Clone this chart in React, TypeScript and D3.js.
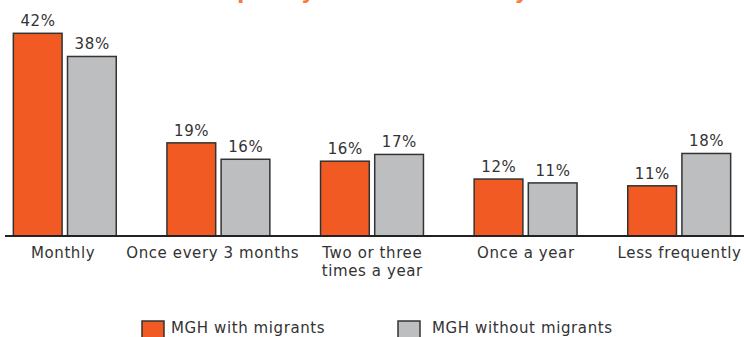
import React from "react";
import * as d3 from "d3";

const categories: string[] = [
  "Monthly",
  "Once every 3 months",
  "Two or three times a year",
  "Once a year",
  "Less frequently",
];
const categoryLines: string[][] = [
  ["Monthly"],
  ["Once every 3 months"],
  ["Two or three", "times a year"],
  ["Once a year"],
  ["Less frequently"],
];
const seriesNames: string[] = ["MGH with migrants", "MGH without migrants"];
const withMigrants: number[] = [42, 19.3, 15.5, 11.8, 10.4];
const withoutMigrants: number[] = [37.2, 15.9, 16.9, 11.0, 17.1];
const withLabels: string[] = ["42%", "19%", "16%", "12%", "11%"];
const withoutLabels: string[] = ["38%", "16%", "17%", "11%", "18%"];
const title = "Frequency of visits to family";

const W = 744;
const H = 337;
const ORANGE = "#F15A22";
const GRAY = "#BCBEC0";
const STROKE = "#333333";
const TEXT = "#333333";
const FONT = "'DejaVu Sans', Verdana, sans-serif";
const LS = 0.6;

export default function App() {
  const baseline = 236;
  const x0 = d3
    .scaleBand<string>()
    .domain(categories)
    .range([-12, 756])
    .paddingInner(0.33)
    .paddingOuter(0.165);
  const x1 = d3
    .scaleBand<string>()
    .domain(seriesNames)
    .range([0, x0.bandwidth()])
    .paddingInner(0.1);
  const y = d3.scaleLinear().domain([0, 50]).range([baseline, baseline - 4.826 * 50]);
  const color = d3.scaleOrdinal<string, string>().domain(seriesNames).range([ORANGE, GRAY]);

  const series = [
    { name: seriesNames[0], values: withMigrants, labels: withLabels },
    { name: seriesNames[1], values: withoutMigrants, labels: withoutLabels },
  ];

  const legendX = [142, 398];
  const legendTextX = [171, 432];
  const labelShift = (i: number) => (i === 1 ? -6 : i === 0 ? -2 : 0);

  return (
    <svg
      width={W}
      height={H}
      style={{ position: "absolute", left: 0, top: 0, display: "block", background: "#fff" }}
      fontFamily={FONT}
    >
      <text
        x={360}
        y={-1.5}
        textAnchor="middle"
        fontSize={21}
        fontWeight="bold"
        fill="#F47B3C"
      >
        {title}
      </text>
      {categories.map((c, i) => (
        <g key={c} transform={`translate(${x0(c)},0)`}>
          {series.map((s) => {
            const bx = x1(s.name)!;
            const by = y(s.values[i]);
            return (
              <g key={s.name}>
                <rect
                  x={bx}
                  y={by}
                  width={x1.bandwidth()}
                  height={baseline - by}
                  fill={color(s.name)}
                  stroke={STROKE}
                  strokeWidth={1.5}
                />
                <text
                  x={bx + x1.bandwidth() / 2 + LS / 2}
                  y={by - 7}
                  textAnchor="middle"
                  fontSize={15}
                  letterSpacing={LS}
                  fill={TEXT}
                >
                  {s.labels[i]}
                </text>
              </g>
            );
          })}
          <text
            x={x0.bandwidth() / 2}
            y={258}
            textAnchor="middle"
            fontSize={15}
            letterSpacing={LS}
            fill={TEXT}
          >
            {categoryLines[i].map((ln, j) => (
              <tspan
                key={j}
                x={x0.bandwidth() / 2 + LS / 2 + labelShift(i)}
                dy={j === 0 ? 0 : 18}
              >
                {ln}
              </tspan>
            ))}
          </text>
        </g>
      ))}
      <line x1={5} x2={W} y1={baseline} y2={baseline} stroke="#222" strokeWidth={2.2} />
      {seriesNames.map((n, i) => (
        <g key={n}>
          <rect
            x={legendX[i]}
            y={321}
            width={22}
            height={22}
            fill={color(n)}
            stroke={STROKE}
            strokeWidth={1.5}
          />
          <text x={legendTextX[i]} y={333} fontSize={15} letterSpacing={LS} fill={TEXT}>
            {n}
          </text>
        </g>
      ))}
    </svg>
  );
}
